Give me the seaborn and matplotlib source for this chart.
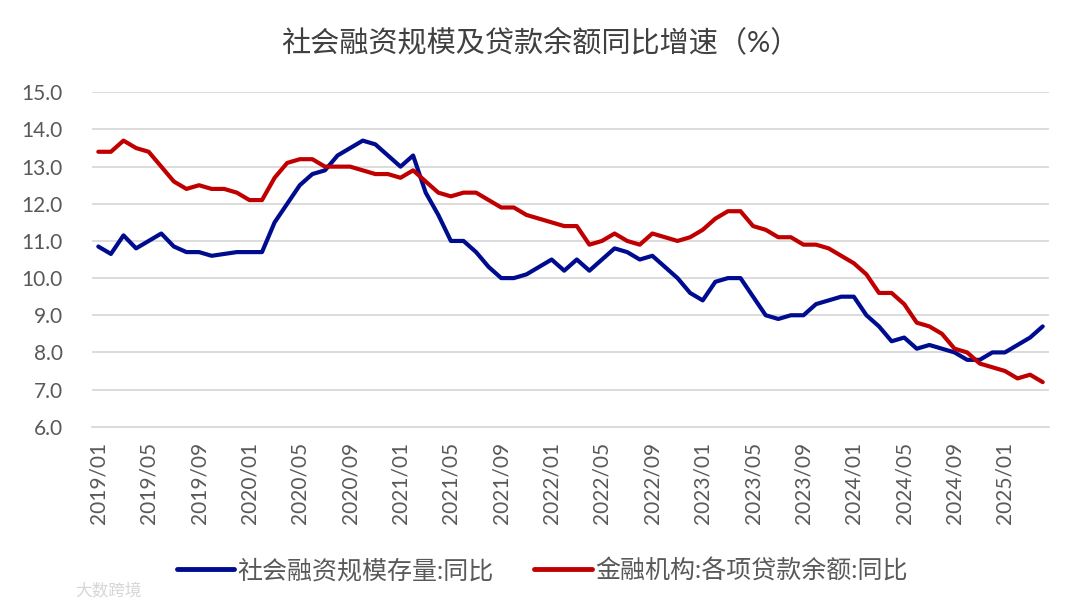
import numpy as np
import pandas as pd
import matplotlib.pyplot as plt
import seaborn as sns

# Monthly categories 2019/01 - 2025/04
months = pd.date_range('2019-01-01', periods=76, freq='MS').strftime('%Y/%m').tolist()

# 社会融资规模存量:同比 (%)
social_financing = [
    10.85, 10.65, 11.15, 10.8, 11.0, 11.2, 10.85, 10.7, 10.7, 10.6, 10.65, 10.7,
    10.7, 10.7, 11.5, 12.0, 12.5, 12.8, 12.9, 13.3, 13.5, 13.7, 13.6, 13.3,
    13.0, 13.3, 12.3, 11.7, 11.0, 11.0, 10.7, 10.3, 10.0, 10.0, 10.1, 10.3,
    10.5, 10.2, 10.5, 10.2, 10.5, 10.8, 10.7, 10.5, 10.6, 10.3, 10.0, 9.6,
    9.4, 9.9, 10.0, 10.0, 9.5, 9.0, 8.9, 9.0, 9.0, 9.3, 9.4, 9.5,
    9.5, 9.0, 8.7, 8.3, 8.4, 8.1, 8.2, 8.1, 8.0, 7.8, 7.8, 8.0,
    8.0, 8.2, 8.4, 8.7,
]

# 金融机构:各项贷款余额:同比 (%)
loans = [
    13.4, 13.4, 13.7, 13.5, 13.4, 13.0, 12.6, 12.4, 12.5, 12.4, 12.4, 12.3,
    12.1, 12.1, 12.7, 13.1, 13.2, 13.2, 13.0, 13.0, 13.0, 12.9, 12.8, 12.8,
    12.7, 12.9, 12.6, 12.3, 12.2, 12.3, 12.3, 12.1, 11.9, 11.9, 11.7, 11.6,
    11.5, 11.4, 11.4, 10.9, 11.0, 11.2, 11.0, 10.9, 11.2, 11.1, 11.0, 11.1,
    11.3, 11.6, 11.8, 11.8, 11.4, 11.3, 11.1, 11.1, 10.9, 10.9, 10.8, 10.6,
    10.4, 10.1, 9.6, 9.6, 9.3, 8.8, 8.7, 8.5, 8.1, 8.0, 7.7, 7.6,
    7.5, 7.3, 7.4, 7.2,
]

series_names = ['社会融资规模存量:同比', '金融机构:各项贷款余额:同比']

df = pd.DataFrame({
    '月份': months * 2,
    '同比': social_financing + loans,
    '指标': [series_names[0]] * len(months) + [series_names[1]] * len(months),
})

sns.set_style('white')
plt.rcParams['font.family'] = ['Lato', 'Noto Sans CJK SC', 'DejaVu Sans']

fig = plt.figure(figsize=(10.8, 6.11), dpi=100)
ax = fig.add_axes([0.0852, 0.3016, 0.8861, 0.5473])

sns.lineplot(data=df, x='月份', y='同比', hue='指标', palette=['#000c8f', '#c00000'],
             linewidth=3, sort=False, ax=ax)

# x axis: labels on the months, tick marks between categories
ax.set_xlim(-0.5, len(months) - 0.5)
ax.set_xticks(range(0, len(months), 4))
ax.set_xticklabels(months[::4], rotation=90)
ax.set_xticks(np.arange(-0.5, len(months), 4), minor=True)
ax.tick_params(axis='x', which='major', length=0, pad=11, labelsize=15, labelcolor='#595959')
ax.tick_params(axis='x', which='minor', length=7, width=1, color='#bfbfbf')

# y axis
ax.set_ylim(6, 15)
yticks = np.arange(6, 15.1, 1)
ax.set_yticks(yticks)
ax.set_yticklabels([f'{v:.1f}' for v in yticks])
ax.tick_params(axis='y', length=0, pad=21, labelsize=15, labelcolor='#595959')
ax.grid(axis='y', color='#d9d9d9', linewidth=1.3)
ax.set_axisbelow(True)

for side in ['left', 'right', 'top']:
    ax.spines[side].set_visible(False)
ax.spines['bottom'].set_color('#d9d9d9')
ax.spines['bottom'].set_linewidth(1.3)
ax.set_xlabel('')
ax.set_ylabel('')

fig.suptitle('社会融资规模及贷款余额同比增速（%）', x=0.5, y=0.953, fontsize=21, color='#404040')

handles, labels = ax.get_legend_handles_labels()
ax.get_legend().remove()
leg = fig.legend(handles, labels, loc='center', bbox_to_anchor=(0.502, 0.067), ncol=2,
                 frameon=False, fontsize=18, handlelength=2.3, handletextpad=0.15,
                 columnspacing=1.6)
for t in leg.get_texts():
    t.set_color('#595959')
for line in leg.get_lines():
    line.set_linewidth(3.5)

# faint watermark
fig.text(0.07, 0.033, '大数跨境', fontsize=12, color='#d6d6d6', ha='left', va='center')

fig.savefig('out.png', dpi=100)
